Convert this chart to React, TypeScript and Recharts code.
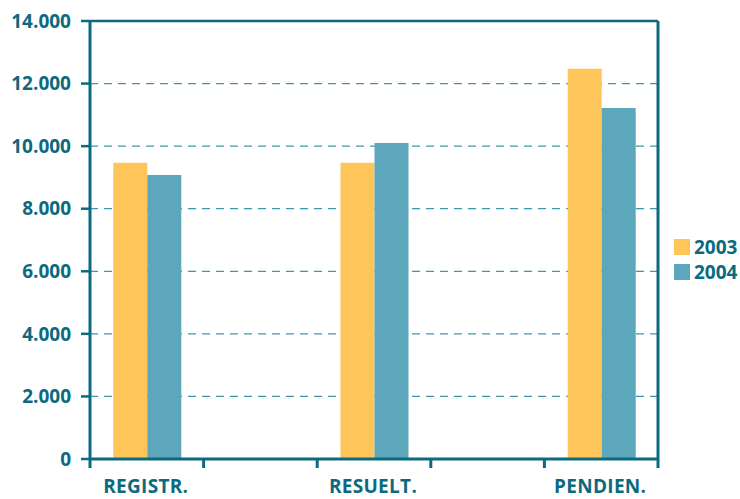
import { BarChart, Bar, XAxis, YAxis, CartesianGrid, ReferenceLine } from 'recharts'

// categories (blank slots keep the wide spacing between groups)
const CATEGORIES = ['REGISTR.', '', 'RESUELT.', '', 'PENDIEN.']
const VALUES_2003 = [9470, null, 9470, null, 12470]
const VALUES_2004 = [9080, null, 10100, null, 11220]
const Y_TICKS = [0, 2000, 4000, 6000, 8000, 10000, 12000, 14000]
const GRID_VALUES = [2000, 4000, 6000, 8000, 10000, 12000]

const SERIES = [
  { key: 'y2003', name: '2003', color: '#fdc55a' },
  { key: 'y2004', name: '2004', color: '#5ca7bc' },
]

const DATA = CATEGORIES.map((c, i) => ({ cat: c, y2003: VALUES_2003[i], y2004: VALUES_2004[i] }))

const AXIS = '#0c6a80'
const FONT = '"Open Sans", "DejaVu Sans", sans-serif'

const fmt = (v: number) => String(v).replace(/\B(?=(\d{3})+(?!\d))/g, '.')

function CatTick(props: any) {
  const { x, y, payload, index } = props
  const half = payload.offset ?? 0
  return (
    <g>
      <line x1={x - half} x2={x - half} y1={y} y2={y + 9} stroke={AXIS} strokeWidth={3} />
      {index === CATEGORIES.length - 1 && (
        <line x1={x + half} x2={x + half} y1={y - 438} y2={y + 9} stroke={AXIS} strokeWidth={3} />
      )}
      {payload.value && (
        <text x={x - 1} y={y + 34} textAnchor="middle" fill={AXIS} fontFamily={FONT} fontWeight={700} fontSize={19} letterSpacing={0.3}>
          {payload.value}
        </text>
      )}
    </g>
  )
}

export default function App() {
  return (
    <div style={{ position: 'absolute', left: 0, top: 0, width: 740, height: 499, background: '#fff' }}>
      <BarChart
        width={740}
        height={499}
        data={DATA}
        margin={{ top: 21, right: 82, bottom: 0, left: 0 }}
        barCategoryGap="20.5%"
        barGap={0}
      >
        <CartesianGrid
          vertical={false}
          horizontalValues={GRID_VALUES}
          stroke="#3f98ad"
          strokeDasharray="8 6"
          strokeWidth={1.3}
        />
        <XAxis
          dataKey="cat"
          height={40}
          interval={0}
          tickSize={0}
          tickMargin={0}
          tickLine={false}
          axisLine={{ stroke: AXIS, strokeWidth: 3 }}
          tick={<CatTick />}
        />
        <YAxis
          width={90}
          domain={[0, 14000]}
          ticks={Y_TICKS}
          interval={0}
          tickSize={9}
          tickMargin={10}
          tickFormatter={fmt}
          tickLine={{ stroke: AXIS, strokeWidth: 2.5 }}
          axisLine={{ stroke: AXIS, strokeWidth: 3 }}
          tick={{ fill: AXIS, fontFamily: FONT, fontWeight: 700, fontSize: 19 }}
        />
        <ReferenceLine y={14000} stroke={AXIS} strokeWidth={2.5} />
        {SERIES.map((s) => (
          <Bar key={s.key} dataKey={s.key} name={s.name} fill={s.color} isAnimationActive={false} />
        ))}
      </BarChart>
      <div style={{ position: 'absolute', left: 674, top: 234, fontFamily: FONT, fontWeight: 700, fontSize: 19, color: AXIS }}>
        {SERIES.map((s) => (
          <div key={s.key} style={{ display: 'flex', alignItems: 'center', height: 25 }}>
            <span style={{ width: 16, height: 16, background: s.color, display: 'inline-block', marginRight: 4 }} />
            {s.name}
          </div>
        ))}
      </div>
    </div>
  )
}
